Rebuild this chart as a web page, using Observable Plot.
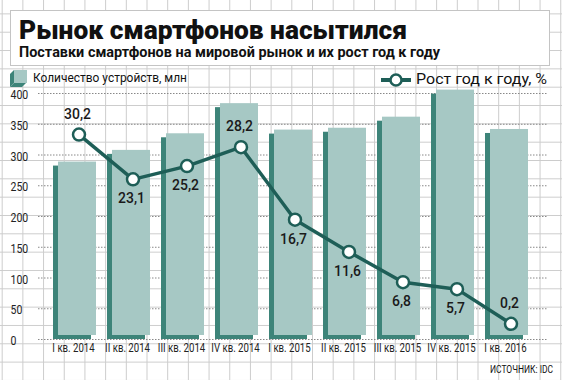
<!DOCTYPE html>
<html><head><meta charset="utf-8">
<script src="https://cdn.jsdelivr.net/npm/d3@7"></script>
<script src="https://cdn.jsdelivr.net/npm/@observablehq/plot@0.6"></script>
<style>
body{margin:0;}
#wrap{position:relative;width:562px;height:380px;overflow:hidden;background-color:#fff;
background-image:linear-gradient(to right,#cccccc 1.2px,transparent 1.2px),linear-gradient(to bottom,#cccccc 1.2px,transparent 1.2px);
background-size:20.7px 18.33px;background-position:1.7px 13.4px;}
#chart{position:absolute;left:0;top:0;}
#box{position:absolute;left:10px;top:10px;width:540px;height:56px;background:#fff;border:1.5px solid #c4c4c4;box-sizing:border-box;}
.t{position:absolute;white-space:nowrap;font-family:Roboto,sans-serif;color:#111;transform-origin:0 50%;line-height:1;}
#title{left:19px;top:17px;font-weight:900;font-size:26px;}
#sub{left:19px;top:45px;font-weight:bold;font-size:15px;}
.leg{font-size:13.5px;}
#src{font-size:11px;}
</style></head>
<body>
<div id="wrap">
  <div id="chart"></div>
  <div id="box"></div>
  <div class="t" id="title" data-w="388">Рынок смартфонов насытился</div>
  <div class="t" id="sub" data-w="421">Поставки смартфонов на мировой рынок и их рост год к году</div>
  <svg style="position:absolute;left:8px;top:69px" width="22" height="22">
    <polygon points="2,5 6,1 6,14 2,18" fill="#3d8479"/>
    <polygon points="2,18 6,14 18,14 14,18" fill="#3d8479"/>
    <rect x="6" y="1" width="13" height="13" fill="#a6c8c4"/>
  </svg>
  <div class="t leg" style="left:33px;top:71px" data-w="154">Количество устройств, млн</div>
  <svg style="position:absolute;left:379px;top:72px" width="34" height="16">
    <line x1="2" y1="8" x2="32" y2="8" stroke="#1e5e57" stroke-width="4"/>
    <circle cx="17" cy="8" r="5.5" fill="#fff" stroke="#1e5e57" stroke-width="2.5"/>
  </svg>
  <div class="t leg" style="left:416px;top:72px;font-size:14px" data-w="131">Рост год к году, %</div>
  <div class="t" id="src" style="left:490px;top:364px" data-w="63">ИСТОЧНИК: IDC</div>
</div>
<script>
const quarters = ["I кв. 2014","II кв. 2014","III кв. 2014","IV кв. 2014","I кв. 2015","II кв. 2015","III кв. 2015","IV кв. 2015","I кв. 2016"];
const shipments = [282, 301, 328, 377, 334, 337, 355, 399, 335];
const growth = [30.2, 23.1, 25.2, 28.2, 16.7, 11.6, 6.8, 5.7, 0.2];
const yTicks = [0, 50, 100, 150, 200, 250, 300, 350, 400];

const data = quarters.map((q, i) => ({q, v: shipments[i], g: growth[i], i}));
// growth line uses its own unlabeled axis, mapped into the bar scale
const pctBase = 23.4, pctScale = 10.26;
const gy = d => pctBase + pctScale * d.g;
const above = new Set([0, 3, 8]);
const fmt = v => String(v).replace(".", ",");

const dark = "#3d8479", face = "#a6c8c4", lineC = "#1e5e57";
const font = "Roboto,sans-serif";

const chart = Plot.plot({
  width: 562, height: 380,
  marginTop: 93, marginBottom: 41, marginLeft: 38, marginRight: 14,
  style: {background: "transparent", overflow: "visible"},
  x: {type: "band", domain: quarters, range: [55, 532], paddingInner: 0.2877, paddingOuter: 0, axis: null},
  y: {domain: [0, 400], axis: null},
  marks: [
    Plot.ruleY(yTicks, {stroke: "#888", strokeWidth: 1, strokeDasharray: "1.5,1.5"}),
    Plot.text(yTicks, {y: d => d, text: d => String(d), frameAnchor: "left", textAnchor: "start", dx: -28, dy: 1.5,
      fontFamily: font, fontSize: 12.5, fill: "#222", className: "narrow-y"}),
    Plot.barY(data, {x: "q", y: "v", fill: dark, dx: -5}),
    Plot.barY(data, {x: "q", y: "v", fill: face, dy: -4}),
    Plot.text(quarters, {x: d => d, text: d => d, frameAnchor: "bottom", dy: 12, dx: -4,
      fontFamily: font, fontSize: 13, fill: "#222", className: "narrow-x"}),
    Plot.line(data, {x: "q", y: gy, stroke: lineC, strokeWidth: 3.5, dx: 1.5}),
    Plot.dot(data, {x: "q", y: gy, r: 6, fill: "#fff", stroke: lineC, strokeWidth: 2.5, dx: 1.5}),
    Plot.text(data.filter(d => above.has(d.i)), {x: "q", y: gy, text: d => fmt(d.g), dy: -21,
      fontFamily: font, fontSize: 15.5, fontWeight: 500, fill: "#1a1a1a", className: "narrow-v"}),
    Plot.text(data.filter(d => !above.has(d.i)), {x: "q", y: gy, text: d => fmt(d.g), dy: 19,
      fontFamily: font, fontSize: 15.5, fontWeight: 500, fill: "#1a1a1a", className: "narrow-v"})
  ]
});
document.getElementById("chart").appendChild(chart);

// condense glyphs horizontally (the reference uses a narrow typeface)
function condense(sel, ratio) {
  chart.querySelectorAll(sel + " text").forEach(t => {
    const w = t.getComputedTextLength();
    t.setAttribute("textLength", (w * ratio).toFixed(2));
    t.setAttribute("lengthAdjust", "spacingAndGlyphs");
  });
}
condense(".narrow-y", 0.84);
condense(".narrow-x", 0.74);
condense(".narrow-v", 0.9);
document.querySelectorAll(".t[data-w]").forEach(el => {
  const w = el.getBoundingClientRect().width;
  el.style.transform = `scaleX(${(+el.dataset.w / w).toFixed(4)})`;
});
</script>
</body></html>
